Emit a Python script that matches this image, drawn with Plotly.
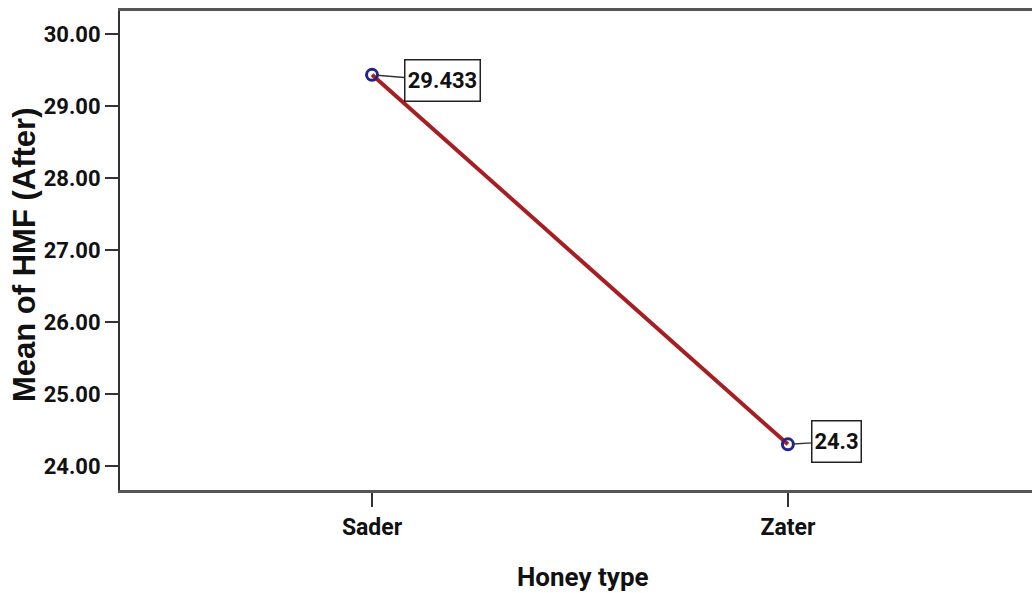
import plotly.graph_objects as go

categories = ["Sader", "Zater"]
means = [29.433, 24.3]
labels = ["29.433", "24.3"]
y_ticks = [24, 25, 26, 27, 28, 29, 30]
y_tick_text = ["24.00", "25.00", "26.00", "27.00", "28.00", "29.00", "30.00"]
x_title = "Honey type"
y_title = "Mean of HMF (After)"

NARROW = "Roboto, Liberation Sans Narrow, sans-serif"
WIDE = "Liberation Sans, Arial, sans-serif"

fig = go.Figure()
fig.add_trace(go.Scatter(
    x=categories, y=means, mode="lines+markers",
    line=dict(color="#A61E22", width=4),
    marker=dict(symbol="circle-open", size=11, color="#23238C", line=dict(width=3, color="#23238C")),
    showlegend=False, hoverinfo="skip",
))

offsets = [(70, 6), (49, -3)]
box_widths = [70, 44]
for c, v, t, (ax, ay), bw in zip(categories, means, labels, offsets, box_widths):
    fig.add_annotation(
        x=c, y=v, text=t, showarrow=True, arrowhead=0, arrowwidth=1.5, arrowcolor="#333333",
        ax=ax, ay=ay, standoff=5, width=bw, height=36,
        font=dict(family=NARROW, size=22, color="#111111", weight="bold"),
        bgcolor="white", bordercolor="#222222", borderwidth=1.5, borderpad=2,
    )

# axis titles as annotations for exact placement
fig.add_annotation(
    xref="paper", yref="paper", x=(583 - 120) / 912, y=(490 - 577) / 479,
    text=x_title, showarrow=False, xanchor="center", yanchor="middle",
    font=dict(family=NARROW, size=26, color="#111111", weight="bold"),
)
fig.add_annotation(
    xref="paper", yref="paper", x=(25 - 120) / 912, y=(490 - 255) / 479,
    text=y_title, showarrow=False, xanchor="center", yanchor="middle", textangle=-90,
    font=dict(family=WIDE, size=31, color="#111111", weight="bold"),
)

fig.update_layout(
    width=1032, height=593,
    margin=dict(l=120, r=0, t=11, b=103),
    plot_bgcolor="white", paper_bgcolor="white",
    xaxis=dict(
        type="category", range=[-0.606, 1.587], automargin=False,
        showline=True, linecolor="#555555", linewidth=3, mirror=True,
        ticks="outside", ticklen=14, tickwidth=2, tickcolor="#333333",
        showgrid=False, zeroline=False,
        tickfont=dict(family=NARROW, size=23, color="#111111", weight="bold"),
    ),
    yaxis=dict(
        range=[23.666, 30.32], automargin=False,
        tickvals=y_ticks, ticktext=y_tick_text,
        showline=True, linecolor="#333333", linewidth=2, mirror=False,
        ticks="outside", ticklen=13, tickwidth=2, tickcolor="#333333",
        showgrid=False, zeroline=False,
        tickfont=dict(family=NARROW, size=22, color="#111111", weight="bold"),
    ),
)

fig.write_html(
    "out.html",
    config={"displayModeBar": False},
    post_script="document.body.style.margin='0';document.body.style.overflow='hidden';",
)
